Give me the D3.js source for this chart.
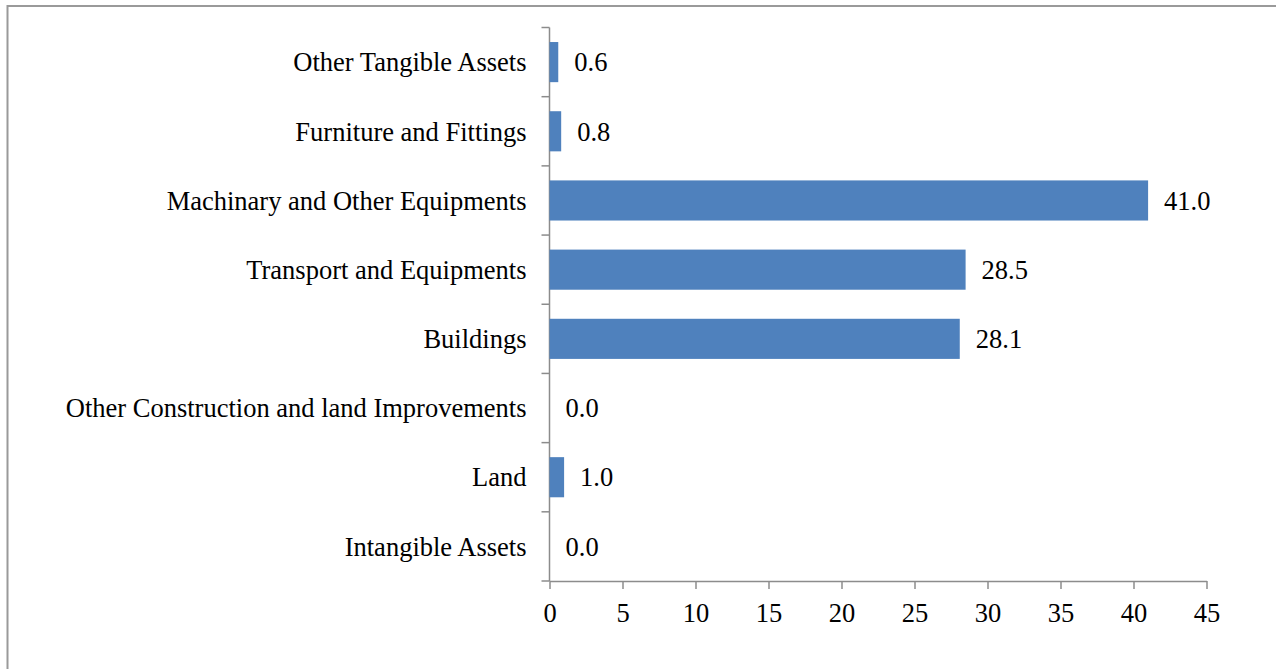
<!DOCTYPE html>
<html>
<head>
<meta charset="utf-8">
<script src="https://cdn.jsdelivr.net/npm/d3@7"></script>
<style>
  body { margin: 0; background: #fff; }
  svg { display: block; }
</style>
</head>
<body>
<div id="chart"></div>
<script>
// categories listed top to bottom
const categories = [
  "Other Tangible Assets",
  "Furniture and Fittings",
  "Machinary and Other Equipments",
  "Transport and Equipments",
  "Buildings",
  "Other Construction and land Improvements",
  "Land",
  "Intangible Assets"
];
const values = [0.6, 0.8, 41.0, 28.5, 28.1, 0.0, 1.0, 0.0];
const xTicks = [0, 5, 10, 15, 20, 25, 30, 35, 40, 45];

const W = 1276, H = 669;
const margin = {top: 27.5, right: 69.5, bottom: 88, left: 549.5},
    width = W - margin.left - margin.right,
    height = H - margin.top - margin.bottom;
const font = "'Liberation Serif', 'Times New Roman', serif";
const fontSize = "26.5px";

const root = d3.select("#chart")
  .append("svg")
    .attr("width", W)
    .attr("height", H)
    .style("font-family", font);

// chart frame, runs off the right and bottom edge like the original
root.append("rect")
  .attr("x", 7.5)
  .attr("y", 6)
  .attr("width", W + 20)
  .attr("height", H + 20)
  .attr("fill", "none")
  .attr("stroke", "#9a9a9a")
  .attr("stroke-width", 2);

const svg = root.append("g")
  .attr("transform", `translate(${margin.left},${margin.top})`);

const data = categories.map((c, i) => ({cat: c, val: values[i]}));

const x = d3.scaleLinear()
  .domain([0, 45])
  .range([0, width]);

const y = d3.scaleBand()
  .domain(categories)
  .range([0, height])
  .paddingInner(0.42)
  .paddingOuter(0.21);

// x axis
const xAxis = svg.append("g")
  .attr("transform", `translate(0,${height})`)
  .call(d3.axisBottom(x).tickValues(xTicks).tickSize(8).tickPadding(14).tickSizeOuter(0))
  .attr("font-family", font);
xAxis.select(".domain").attr("stroke", "#8c8c8c").attr("stroke-width", 1.5);
xAxis.selectAll(".tick line").attr("stroke", "#8c8c8c").attr("stroke-width", 1.5);
xAxis.selectAll("text")
  .style("font-size", fontSize)
  .attr("fill", "#000");

// y axis: ticks sit on band boundaries
const yAxis = svg.append("g");
yAxis.append("line")
  .attr("x1", 0).attr("x2", 0)
  .attr("y1", 0).attr("y2", height)
  .attr("stroke", "#8c8c8c")
  .attr("stroke-width", 1.5);
const step = y.step();
yAxis.selectAll("line.tk")
  .data(d3.range(categories.length + 1))
  .join("line")
    .attr("class", "tk")
    .attr("x1", -8).attr("x2", 0)
    .attr("y1", i => i * step)
    .attr("y2", i => i * step)
    .attr("stroke", "#8c8c8c")
    .attr("stroke-width", 1.5);

svg.selectAll("text.cat")
  .data(data)
  .join("text")
    .attr("class", "cat")
    .attr("x", -23)
    .attr("y", d => y(d.cat) + y.bandwidth() / 2)
    .attr("dy", "0.35em")
    .attr("text-anchor", "end")
    .style("font-size", fontSize)
    .attr("fill", "#000")
    .text(d => d.cat);

// bars
svg.selectAll("rect.bar")
  .data(data)
  .join("rect")
    .attr("class", "bar")
    .attr("x", x(0))
    .attr("y", d => y(d.cat))
    .attr("width", d => x(d.val) - x(0))
    .attr("height", y.bandwidth())
    .attr("fill", "#4f81bd");

// value labels
svg.selectAll("text.val")
  .data(data)
  .join("text")
    .attr("class", "val")
    .attr("x", d => x(d.val) + 16)
    .attr("y", d => y(d.cat) + y.bandwidth() / 2)
    .attr("dy", "0.35em")
    .style("font-size", fontSize)
    .attr("fill", "#000")
    .text(d => d.val.toFixed(1));
</script>
</body>
</html>
